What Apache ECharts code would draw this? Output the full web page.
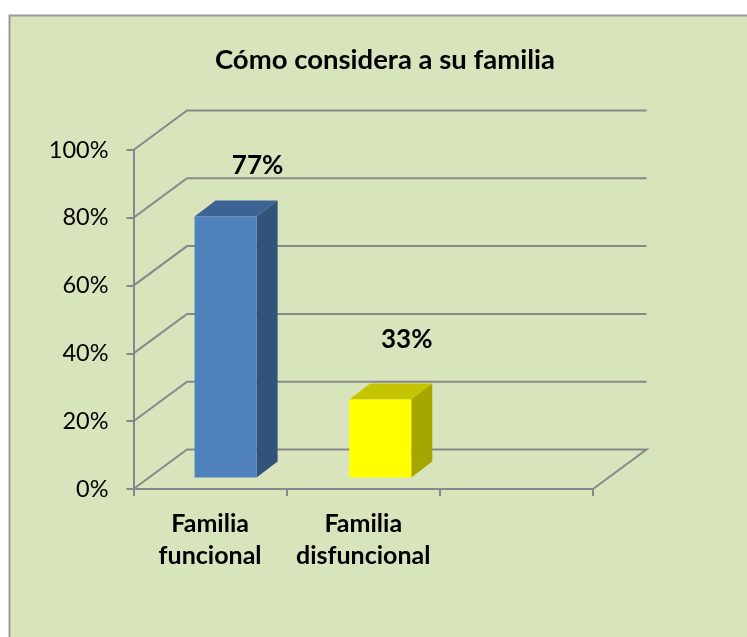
<!DOCTYPE html>
<html>
<head>
<meta charset="utf-8">
<style>
  html, body { margin: 0; padding: 0; background: #fff; }
  #chart { width: 747px; height: 637px; }
</style>
</head>
<body>
<div id="chart"></div>
<script src="https://cdn.jsdelivr.net/npm/echarts@6/dist/echarts.min.js"></script>
<script>
// datos
var categories = ['Familia\nfuncional', 'Familia\ndisfuncional', ''];
var barValues = [77, 23];
var barLabels = ['77%', '33%'];   // la etiqueta del original dice 33% aunque la barra llega a 23
var barFront = ['#4f81bd', '#ffff00'];
var barTop = ['#3d6394', '#c4c400'];
var barSide = ['#31527b', '#a6a600'];
var yTicks = [0, 20, 40, 60, 80, 100];

var gridColor = '#888888';
var font = 'Lato, "Open Sans", sans-serif';

// profundidad del "3D"
var wallDx = 53.5, wallDy = 39.5;
var barInsetDx = 15.5, barInsetDy = 11.5;
var barDx = 21, barDy = 16;
var barNudge = [0, 1.5];
var labelShift = [[32, -51], [26.5, -60]];

var chart = echarts.init(document.getElementById('chart'));

var option = {
  animation: false,
  graphic: [{
    type: 'rect',
    z: -10,
    shape: { x: 9.5, y: 15.5, width: 760, height: 640 },
    style: { fill: '#d8e4bc', stroke: '#9a9a9a', lineWidth: 2 }
  }],
  title: {
    text: 'Cómo considera a su familia',
    left: 384,
    top: 41,
    textAlign: 'center',
    textStyle: { fontFamily: font, fontSize: 27.5, fontWeight: 'bold', color: '#000' }
  },
  grid: { left: 133.5, right: 154, top: 150, bottom: 148 },
  xAxis: {
    type: 'category',
    data: categories,
    axisLine: { lineStyle: { color: gridColor, width: 2 } },
    axisTick: { show: true, length: 7, lineStyle: { color: gridColor, width: 2 } },
    axisLabel: {
      interval: 0,
      margin: 19,
      fontFamily: font,
      fontSize: 25,
      fontWeight: 'bold',
      lineHeight: 32,
      color: '#000'
    }
  },
  yAxis: {
    type: 'value',
    min: 0,
    max: 100,
    interval: 20,
    axisLine: { show: true, lineStyle: { color: gridColor, width: 2 } },
    axisTick: { show: true, length: 7, lineStyle: { color: gridColor, width: 2 } },
    axisLabel: {
      margin: 25,
      fontFamily: font,
      fontSize: 23.5,
      color: '#000',
      formatter: '{value}%'
    },
    splitLine: { show: false }
  },
  series: [
    {
      // paredes y piso
      type: 'custom',
      z: 1,
      silent: true,
      data: yTicks.map(function (v) { return [0, v]; }),
      renderItem: function (params, api) {
        var v = api.value(1);
        var band = api.size([1, 0])[0];
        var p = api.coord([0, v]);
        var x0 = p[0] - band / 2;
        var x1 = api.coord([2, v])[0] + band / 2;
        var pts = [[x0, p[1]], [x0 + wallDx, p[1] - wallDy], [x1 + wallDx, p[1] - wallDy]];
        if (v === 0) {
          pts.push([x1, p[1]]);
        }
        return {
          type: 'polyline',
          shape: { points: pts },
          style: { fill: 'none', stroke: gridColor, lineWidth: 2 }
        };
      }
    },
    {
      // barras
      type: 'custom',
      z: 2,
      silent: true,
      data: barValues.map(function (v, i) { return [i, v]; }),
      renderItem: function (params, api) {
        var i = api.value(0);
        var band = api.size([1, 0])[0];
        var w = band * 0.405;
        var top = api.coord([i, api.value(1)]);
        var base = api.coord([i, 0]);
        var xl = top[0] - w / 2 + barInsetDx + barNudge[i];
        var xr = xl + w;
        var yt = top[1] - barInsetDy;
        var yb = base[1] - barInsetDy;
        return {
          type: 'group',
          children: [
            {
              type: 'polygon',
              shape: { points: [[xl, yt], [xl + barDx, yt - barDy], [xr + barDx, yt - barDy], [xr, yt]] },
              style: { fill: barTop[i] }
            },
            {
              type: 'polygon',
              shape: { points: [[xr, yt], [xr + barDx, yt - barDy], [xr + barDx, yb - barDy], [xr, yb]] },
              style: { fill: barSide[i] }
            },
            {
              type: 'rect',
              shape: { x: xl, y: yt, width: w, height: yb - yt },
              style: { fill: barFront[i] }
            },
            {
              type: 'text',
              style: {
                text: barLabels[i],
                x: (xl + xr) / 2 + labelShift[i][0],
                y: yt + labelShift[i][1],
                align: 'center',
                verticalAlign: 'middle',
                font: 'bold 26px ' + font,
                fill: '#000'
              }
            }
          ]
        };
      }
    }
  ]
};

// el titulo se centra a mano: textAlign lo deja unos px a la derecha
option.title.left = 380;

chart.setOption(option);
</script>
</body>
</html>
